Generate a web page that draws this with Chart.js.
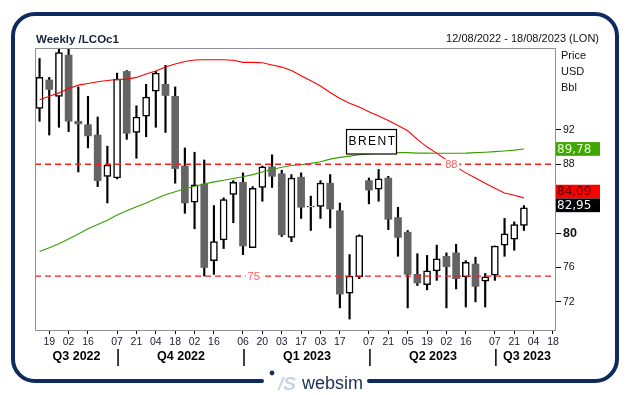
<!DOCTYPE html>
<html>
<head>
<meta charset="utf-8">
<script src="https://cdn.jsdelivr.net/npm/chart.js@4/dist/chart.umd.min.js"></script>
<style>
html,body{margin:0;padding:0;background:#fff;}
#wrap{width:629px;height:395px;position:relative;}
</style>
</head>
<body>
<div id="wrap"><canvas id="c" width="629" height="395"></canvas></div>
<script>
// ---------- DATA ----------
const weeks = [
 '2022-08-12','2022-08-19','2022-08-26','2022-09-02','2022-09-09','2022-09-16','2022-09-23','2022-09-30',
 '2022-10-07','2022-10-14','2022-10-21','2022-10-28','2022-11-04','2022-11-11','2022-11-18','2022-11-25',
 '2022-12-02','2022-12-09','2022-12-16','2022-12-23','2022-12-30',
 '2023-01-06','2023-01-13','2023-01-20','2023-01-27','2023-02-03','2023-02-10','2023-02-17','2023-02-24',
 '2023-03-03','2023-03-10','2023-03-17','2023-03-24','2023-03-31','2023-04-07','2023-04-14','2023-04-21',
 '2023-04-28','2023-05-05','2023-05-12','2023-05-19','2023-05-26','2023-06-02','2023-06-09','2023-06-16',
 '2023-06-23','2023-06-30','2023-07-07','2023-07-14','2023-07-21','2023-07-28','2023-08-04','2023-08-11',
 '2023-08-18'
];
const openP  = [94.5,97.8,95.9,100.7,93.0,92.6,91.4,86.6,86.4,98.8,91.7,93.6,96.5,97.3,95.9,87.8,83.6,85.7,76.8,79.2,
                84.5,85.9,78.3,85.3,87.7,86.9,79.5,86.5,83.05,83.1,85.8,82.6,73.0,74.9,86.1,85.1,86.4,81.8,80.1,75.2,
                74.0,75.6,77.3,77.7,74.9,76.4,74.4,75.1,78.6,79.3,80.9];
const highP  = [100.3,98.1,101.8,101.8,97.0,95.9,93.5,90.1,98.6,98.9,94.8,97.3,98.8,99.5,97.0,89.9,89.4,88.5,83.2,84.1,
                86.1,87.0,85.4,87.8,89.1,87.3,86.8,87.0,84.3,86.1,86.8,83.5,77.5,79.8,86.4,87.4,86.6,83.0,80.3,77.6,
                77.4,78.6,77.7,78.7,76.8,77.2,75.3,78.5,81.7,81.3,83.2];
const lowP   = [93.0,91.4,92.3,91.8,87.1,89.9,85.4,83.5,86.3,90.9,88.7,91.2,92.3,91.7,85.8,82.3,80.5,75.0,75.2,78.2,
                81.2,77.5,78.3,83.7,85.3,79.6,79.0,81.7,80.3,81.7,80.6,71.3,70.0,74.7,83.4,83.7,80.4,77.3,71.3,73.9,
                73.4,74.5,71.3,73.5,71.4,72.0,71.4,74.5,77.3,78.0,80.3];
const closeP = [98.1,96.7,101.0,93.0,92.7,91.3,86.1,87.9,97.9,91.6,93.5,95.8,98.6,96.0,87.5,83.5,85.6,76.0,79.0,83.9,
                85.9,78.5,85.2,87.7,86.6,79.8,86.4,83.0,83.1,85.8,82.8,72.9,75.0,79.7,85.0,86.3,81.6,79.5,75.2,74.2,
                75.6,77.0,76.1,74.7,76.6,73.8,74.9,78.5,79.9,81.0,82.95];
const maRed   = [95.5,95.9,96.3,96.8,97.2,97.4,97.6,97.75,97.85,97.9,98.1,98.5,98.85,99.3,99.65,99.95,100.13,100.15,100.15,100.15,
                 100.1,99.85,99.85,99.8,99.55,99.3,98.9,98.3,97.7,97.1,96.35,95.65,95.1,94.65,94.1,93.6,93.1,92.5,91.9,90.9,
                 90.0,89.3,88.5,87.7,87.0,86.4,85.8,85.2,84.65,84.4,84.09];
const maGreen = [77.85,78.3,78.75,79.3,79.9,80.5,81.0,81.5,82.1,82.6,83.07,83.5,84.0,84.45,84.8,85.15,85.45,85.7,85.95,86.15,
                 86.35,86.55,86.8,87.1,87.4,87.65,87.85,87.95,88.1,88.3,88.6,88.8,88.95,89.1,89.2,89.25,89.3,89.35,89.35,89.3,
                 89.3,89.28,89.28,89.28,89.3,89.35,89.4,89.47,89.55,89.65,89.78];
const levels = [88, 75];
const yTicks = [72, 76, 80, 88, 92];
const tickWeeks = ['2022-08-19','2022-09-02','2022-09-16','2022-10-07','2022-10-21','2022-11-04','2022-11-18','2022-12-02',
                   '2022-12-16','2023-01-06','2023-01-20','2023-02-03','2023-02-17','2023-03-03','2023-03-17','2023-04-07',
                   '2023-04-21','2023-05-05','2023-05-19','2023-06-02','2023-06-16','2023-07-07','2023-07-21','2023-08-04',
                   '2023-08-18'];
const tickLabels = ['19','02','16','07','21','04','18','02','16','06','20','03','17','03','17','07','21','05','19','02','16','07','21','04','18'];
const quarterStarts = ['2022-10-07','2023-01-06','2023-04-07','2023-07-07'];
const quarterLabels = ['Q3 2022','Q4 2022','Q1 2023','Q2 2023','Q3 2023'];
const title = 'Weekly /LCOc1';
const dateRange = '12/08/2022 - 18/08/2023 (LON)';
const unitLabels = ['Price','USD','Bbl'];
const instrument = 'BRENT';

// ---------- BUILD ----------
const FONT = "'Liberation Sans', Arial, sans-serif";
const X_MIN = -0.47, X_MAX = 53.31;
const tickIdx = tickWeeks.map(w => weeks.indexOf(w));
const candleIdx = openP.map((_, i) => i);
const bodies = candleIdx.map(i => ({x: i, y: [openP[i], closeP[i]]}));
const wicks  = candleIdx.map(i => ({x: i, y: [lowP[i], highP[i]]}));
const isUp = i => closeP[i] >= openP[i];
const fmt = v => v.toFixed(2).replace('.', ',');
const levelLine = lv => [{x: X_MIN, y: lv}, {x: X_MAX, y: lv}];

const overlay = {
  id: 'overlay',
  afterDraw(chart) {
    const c = chart.ctx, a = chart.chartArea;
    const xs = chart.scales.x, ys = chart.scales.y;
    c.save();
    // plot border
    c.strokeStyle = '#8e8e9c'; c.lineWidth = 1;
    c.strokeRect(a.left + 0.5, a.top + 0.5, a.right - a.left - 1, a.bottom - a.top);

    // level labels
    c.font = '11px ' + FONT; c.textAlign = 'center'; c.textBaseline = 'middle';
    const lvlAt = [42.5, 22.1];
    levels.forEach((lv, k) => {
      const px = xs.getPixelForValue(lvlAt[k]), py = ys.getPixelForValue(lv);
      c.fillStyle = '#fff'; c.fillRect(px - 8, py - 5, 16, 10);
      c.fillStyle = '#ff5a5a'; c.fillText(String(lv), px, py + 0.5);
    });

    // BRENT box
    c.fillStyle = '#fff'; c.fillRect(346, 129, 51, 25);
    c.strokeStyle = '#000'; c.lineWidth = 1.2; c.strokeRect(346.5, 129.5, 50, 24.5);
    c.fillStyle = '#000'; c.font = '12px ' + FONT; c.textAlign = 'center';
    if ('letterSpacing' in c) c.letterSpacing = '1.5px';
    c.fillText(instrument, 372.5, 142);
    if ('letterSpacing' in c) c.letterSpacing = '0px';

    // title and date range
    c.textBaseline = 'alphabetic';
    c.textAlign = 'left'; c.fillStyle = '#16213e'; c.font = 'bold 11.5px ' + FONT;
    c.fillText(title, 36, 43);
    c.textAlign = 'right'; c.fillStyle = '#111'; c.font = '11px ' + FONT;
    c.fillText(dateRange, 599, 42);

    // unit labels
    c.textAlign = 'left'; c.font = '11px ' + FONT; c.fillStyle = '#111';
    unitLabels.forEach((t, k) => c.fillText(t, 561, 59 + k * 15.8));

    // value boxes
    const last = openP.length - 1;
    const bx = a.right, bw = 44, bh = 13.7;
    const yG = ys.getPixelForValue(maGreen[last]);
    const yB = ys.getPixelForValue(closeP[last]) - 2.4;
    const yR = yB - bh;
    c.font = "12px 'DejaVu Sans', " + FONT; c.textBaseline = 'middle';
    c.fillStyle = '#3fa600'; c.fillRect(bx, yG - bh / 2, bw, bh);
    c.fillStyle = '#e6ffd8'; c.fillText(fmt(maGreen[last]), bx + 1, yG + 0.5);
    c.fillStyle = '#ff0000'; c.fillRect(bx, yR - bh / 2, bw, bh);
    c.fillStyle = '#4a0000'; c.fillText(fmt(maRed[last]), bx + 1, yR + 0.5);
    c.fillStyle = '#000'; c.fillRect(bx, yB - bh / 2, bw, bh);
    c.fillStyle = '#f2f6ff'; c.fillText(fmt(closeP[last]), bx + 1, yB + 0.5);

    // quarter separators & labels
    const seps = quarterStarts.map(w => xs.getPixelForValue(weeks.indexOf(w)) + 1);
    c.strokeStyle = '#000'; c.lineWidth = 1.5;
    seps.forEach(sx => { c.beginPath(); c.moveTo(sx, 349); c.lineTo(sx, 366); c.stroke(); });
    const bounds = [a.left, ...seps, a.right];
    c.font = 'bold 12.5px ' + FONT; c.fillStyle = '#000'; c.textAlign = 'center'; c.textBaseline = 'middle';
    quarterLabels.forEach((q, k) => c.fillText(q, (bounds[k] + bounds[k + 1]) / 2 + (k === 4 ? 1 : 0), 357));

    // frame
    const L = 13, T = 14, R = 617, B = 381, r = 22;
    c.strokeStyle = '#0d2b5c'; c.lineWidth = 4; c.lineCap = 'round';
    c.beginPath();
    c.moveTo(262, B);
    c.lineTo(L + r, B); c.arcTo(L, B, L, B - r, r);
    c.lineTo(L, T + r); c.arcTo(L, T, L + r, T, r);
    c.lineTo(R - r, T); c.arcTo(R, T, R, T + r, r);
    c.lineTo(R, B - r); c.arcTo(R, B, R - r, B, r);
    c.lineTo(369, B);
    c.stroke();

    // logo
    c.fillStyle = '#1b2d5b';
    c.beginPath(); c.arc(272, 373, 2.4, 0, Math.PI * 2); c.fill();
    c.textAlign = 'left'; c.textBaseline = 'alphabetic';
    c.fillStyle = '#c9d3e2'; c.font = 'italic bold 19px ' + FONT;
    c.fillText('/S', 278, 390);
    c.fillStyle = '#1b2d5b'; c.font = '18px ' + FONT;
    c.fillText('websim', 302, 389);
    c.restore();
  }
};

new Chart(document.getElementById('c'), {
  data: {
    datasets: [
      { type: 'line', data: levelLine(levels[0]), borderColor: '#ff1a1a', borderWidth: 1.4,
        borderDash: [6, 4], pointRadius: 0, order: 0 },
      { type: 'line', data: levelLine(levels[1]), borderColor: '#ff1a1a', borderWidth: 1.4,
        borderDash: [6, 4], pointRadius: 0, order: 0 },
      { type: 'line', data: candleIdx.map(i => ({x: i, y: maRed[i]})), borderColor: '#ff0000', borderWidth: 1.1,
        pointRadius: 0, tension: 0, order: 1 },
      { type: 'line', data: candleIdx.map(i => ({x: i, y: maGreen[i]})), borderColor: '#36a000', borderWidth: 1.1,
        pointRadius: 0, tension: 0, order: 1 },
      { type: 'bar', data: bodies, grouped: false, barThickness: 7, borderSkipped: false,
        backgroundColor: ctx => isUp(ctx.dataIndex) ? '#ffffff' : '#646464',
        borderColor: ctx => isUp(ctx.dataIndex) ? '#000000' : '#646464',
        borderWidth: ctx => isUp(ctx.dataIndex) ? 1.5 : 0, order: 2 },
      { type: 'bar', data: wicks, grouped: false, barThickness: 1.5, borderSkipped: false,
        backgroundColor: '#000000', borderWidth: 0, order: 3 }
    ]
  },
  options: {
    responsive: false,
    animation: false,
    events: [],
    layout: { padding: { left: 35, top: 48, right: 0, bottom: 0 } },
    plugins: { legend: { display: false }, tooltip: { enabled: false } },
    scales: {
      x: {
        type: 'linear', position: 'bottom', min: X_MIN, max: X_MAX, offset: false, bounds: 'data',
        afterFit: s => { s.height = 65; },
        afterBuildTicks: s => { s.ticks = tickIdx.map(v => ({ value: v })); },
        border: { display: false },
        grid: { drawOnChartArea: false, drawTicks: true, tickLength: 4, tickColor: '#000', tickWidth: 1, offset: false },
        ticks: { autoSkip: false, maxRotation: 0, padding: 2, color: '#1a1a33',
                 font: { family: FONT, size: 10.5 },
                 callback: (v) => tickLabels[tickIdx.indexOf(v)] }
      },
      y: {
        type: 'linear', position: 'right', min: 68.73, max: 101.52,
        afterFit: s => { s.width = 73; },
        afterBuildTicks: s => { s.ticks = yTicks.map(v => ({ value: v })); },
        border: { display: false },
        grid: { drawOnChartArea: false, drawTicks: true, tickLength: 5, tickColor: '#000', tickWidth: 1 },
        ticks: { padding: 2, color: '#111',
                 font: ctx => (ctx.tick && ctx.tick.value === 80) ? { family: FONT, size: 12.5, weight: 'bold' } : { family: FONT, size: 10.5 },
                 callback: v => String(v) }
      }
    }
  },
  plugins: [overlay]
});
</script>
</body>
</html>
